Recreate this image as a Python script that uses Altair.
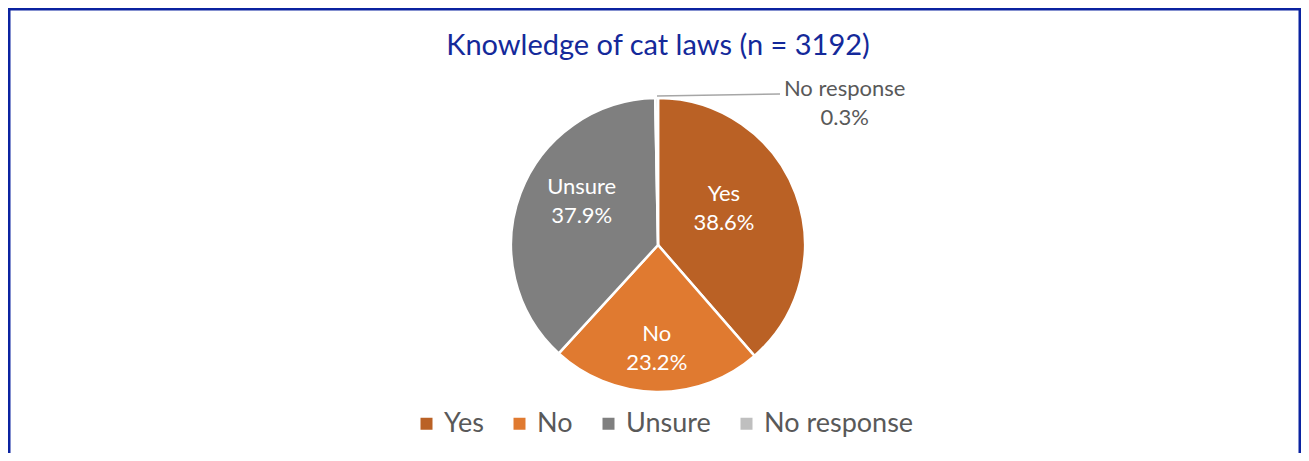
import altair as alt
import pandas as pd

categories = ["Yes", "No", "Unsure", "No response"]
percent = [38.6, 23.2, 37.9, 0.3]
colors = ["#BA6125", "#E07A30", "#7F7F7F", "#BFBFBF"]
title_text = "Knowledge of cat laws (n = 3192)"

df = pd.DataFrame({"category": categories, "percent": percent, "idx": list(range(len(categories)))})
df["label"] = df["category"] + "\n" + df["percent"].map(lambda v: f"{v:.1f}%")

W, H = 1293, 445
CX, CY, R = 650, 237, 147
FONT = "Lato"

base = alt.Chart(df).encode(
    theta=alt.Theta("percent:Q", stack=True),
    order=alt.Order("idx:Q"),
    x=alt.value(CX),
    y=alt.value(CY),
)

pie = base.mark_arc(outerRadius=R, stroke="white", strokeWidth=2.5).encode(
    color=alt.Color(
        "category:N",
        scale=alt.Scale(domain=categories, range=colors),
        sort=categories,
        legend=alt.Legend(
            title=None, orient="none", legendX=405, legendY=402,
            direction="horizontal", columns=4, symbolType="square",
            symbolSize=144, symbolStrokeWidth=0, labelFont=FONT,
            labelFontSize=27, labelColor="#595959", columnPadding=22,
            labelOffset=4,
        ),
    )
)


def lab(cat, r, dx, dy, color, size):
    return base.mark_text(
        radius=r, dx=dx, dy=dy, color=color, fontSize=size, font=FONT,
        lineBreak="\n", align="center", baseline="middle", lineHeight=29,
    ).encode(text=alt.condition(f"datum.category == '{cat}'", "label:N", alt.value("")))


labels = [
    lab("Yes", 80, -9, -23, "white", 22),
    lab("Unsure", 88, 6, -27, "white", 22),
    lab("No", 103, 0, -14, "white", 22),
    lab("No response", 143, 188, -13, "#595959", 22),
]

one = alt.Chart(pd.DataFrame({"a": [0]}))
leader = one.mark_rule(color="#A6A6A6", strokeWidth=1.5).encode(
    x=alt.value(649), y=alt.value(88), x2=alt.value(772), y2=alt.value(86)
)
border_style = dict(color="#0B23A0", strokeWidth=5)
border = [
    one.mark_rule(**border_style).encode(x=alt.value(0), x2=alt.value(W), y=alt.value(0)),
    one.mark_rule(**border_style).encode(x=alt.value(0), y=alt.value(0), y2=alt.value(H)),
    one.mark_rule(**border_style).encode(x=alt.value(W), y=alt.value(0), y2=alt.value(H)),
]
title = one.mark_text(
    font=FONT, fontSize=29, color="#14299A", align="center", baseline="middle"
).encode(x=alt.value(CX), y=alt.value(38), text=alt.value(title_text))

chart = alt.layer(pie, *labels, leader, title, *border).properties(
    width=W, height=H, autosize=alt.AutoSizeParams(type="none"), padding=0,
    background="white",
).configure_view(stroke=None)

chart.save("out.html", embed_options={"renderer": "svg", "actions": False})
